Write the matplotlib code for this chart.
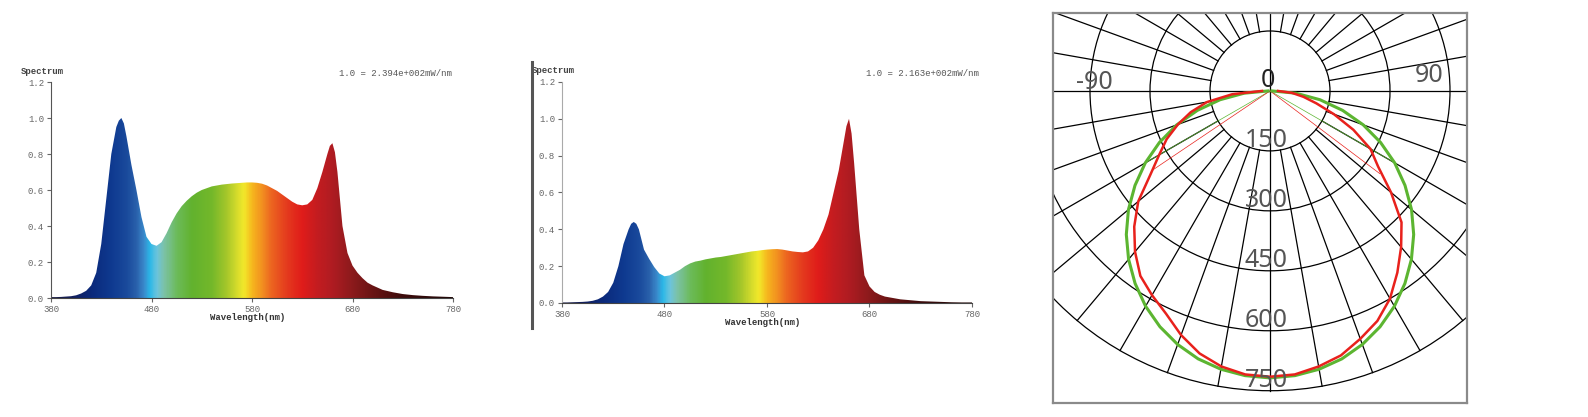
import numpy as np
import matplotlib
matplotlib.use('Agg')
import matplotlib.pyplot as plt
from matplotlib.colors import LinearSegmentedColormap
from matplotlib.patches import Circle
from matplotlib.lines import Line2D

# ---------------------------- data ----------------------------
wl = [380, 385, 390, 395, 400, 405, 410, 415, 420, 425, 430, 435, 440, 445, 447.5, 450, 452.5,
      455, 460, 465, 470, 475, 480, 485, 490, 495, 500, 505, 510, 515, 520, 525, 530, 535,
      540, 545, 550, 555, 560, 565, 570, 575, 580, 585, 590, 595, 600, 605, 610, 615,
      620, 625, 630, 635, 640, 645, 650, 655, 657.5, 660, 662.5, 665, 670, 675, 680, 685, 690,
      695, 700, 710, 720, 730, 740, 750, 760, 770, 780]

spec_a = [0.005, 0.005, 0.006, 0.008, 0.010, 0.015, 0.025, 0.040, 0.070, 0.140, 0.300, 0.550,
          0.800, 0.950, 0.985, 1.000, 0.970, 0.900, 0.740, 0.600, 0.450, 0.340, 0.300, 0.290,
          0.310, 0.360, 0.420, 0.470, 0.510, 0.540, 0.565, 0.585, 0.600, 0.610, 0.620, 0.625,
          0.630, 0.633, 0.636, 0.638, 0.640, 0.642, 0.642, 0.640, 0.635, 0.625, 0.610, 0.595,
          0.575, 0.555, 0.535, 0.520, 0.515, 0.520, 0.545, 0.610, 0.700, 0.800, 0.845, 0.860,
          0.810, 0.700, 0.400, 0.250, 0.180, 0.140, 0.110, 0.085, 0.070, 0.045, 0.032, 0.022,
          0.016, 0.012, 0.009, 0.007, 0.005]

spec_b = [0.003, 0.003, 0.004, 0.005, 0.006, 0.008, 0.012, 0.020, 0.035, 0.060, 0.110, 0.200,
          0.320, 0.400, 0.430, 0.440, 0.430, 0.400, 0.290, 0.240, 0.195, 0.160, 0.145, 0.150,
          0.165, 0.180, 0.200, 0.215, 0.225, 0.230, 0.237, 0.242, 0.247, 0.250, 0.255, 0.260,
          0.265, 0.270, 0.275, 0.280, 0.283, 0.287, 0.290, 0.292, 0.293, 0.290, 0.285, 0.280,
          0.277, 0.275, 0.280, 0.300, 0.340, 0.400, 0.480, 0.600, 0.720, 0.880, 0.960, 1.000,
          0.920, 0.760, 0.400, 0.150, 0.090, 0.060, 0.045, 0.035, 0.030, 0.020, 0.015, 0.010,
          0.008, 0.006, 0.004, 0.003, 0.003]

note_a = '1.0 = 2.394e+002mW/nm'
note_b = '1.0 = 2.163e+002mW/nm'

# spectral fill colours
col_wl = [380, 400, 420, 440, 455, 465, 472, 478, 485, 492, 505, 520, 540, 555, 565, 572,
          580, 590, 600, 615, 630, 645, 660, 680, 700, 730, 780]
col_hex = ['#1a1a40', '#131f5c', '#0b2a7c', '#0f3a90', '#1a4a9c', '#2a62ac', '#3a8acc',
           '#2ab8e8', '#6cc4dc', '#7cc2a8', '#6cbb5a', '#62b22e', '#74b82a', '#a6c72a',
           '#d6dc2c', '#f2e82a', '#f6b81e', '#f29020', '#ec6320', '#e43a1e', '#e01c1a',
           '#c41c20', '#b01c22', '#8c1a1c', '#6a1414', '#3e0c0c', '#200606']

# candela curves (C0-C180 red, C90-C270 green), angle from nadir
ang = [-90, -85, -80, -75, -70, -65, -60, -55, -50, -45, -40, -35, -30, -25, -20, -15, -10, -5,
       0, 5, 10, 15, 20, 25, 30, 35, 40, 45, 50, 55, 60, 65, 70, 75, 80, 85, 90]
cd_red = [20, 95, 160, 205, 245, 285, 320, 365, 430, 480, 525, 565, 590, 615, 650, 680, 700, 712,
          715, 712, 700, 685, 660, 635, 600, 555, 510, 465, 395, 330, 290, 230, 170, 120, 85, 55, 20]
cd_green = [5, 65, 127, 188, 248, 305, 360, 412, 462, 508, 550, 588, 622, 651, 675, 694, 707, 715,
            718, 715, 707, 694, 675, 651, 622, 588, 550, 508, 462, 412, 360, 305, 248, 188, 127, 65, 5]
beam_red = [(-56, 356), (53, 344)]
beam_green = [(-60, 360), (60, 360)]
rings = [150, 300, 450, 600, 750]

W, H = 1588, 417
fig = plt.figure(figsize=(W / 100, H / 100), dpi=100)

mono = 'Liberation Mono'
cmap = LinearSegmentedColormap.from_list(
    'spec', [((w - 380) / 400, c) for w, c in zip(col_wl, col_hex)])


def spectrum_panel(rect, values, note, spine_col, note_x):
    ax = fig.add_axes(rect)
    ax.set_xlim(380, 780)
    ax.set_ylim(0, 1.2)
    grad = np.linspace(0, 1, 800).reshape(1, -1)
    im = ax.imshow(grad, cmap=cmap, extent=[380, 780, 0, 1.2], aspect='auto', origin='lower')
    poly = ax.fill_between(wl, values, color='none', lw=0)
    im.set_clip_path(poly.get_paths()[0], transform=ax.transData)
    for s in ['top', 'right']:
        ax.spines[s].set_visible(False)
    ax.spines['left'].set_color(spine_col)
    ax.spines['bottom'].set_color('#444444')
    ax.set_xticks([380, 480, 580, 680, 780])
    ax.set_yticks([0.0, 0.2, 0.4, 0.6, 0.8, 1.0, 1.2])
    ax.set_yticklabels(['%.1f' % v for v in ax.get_yticks()])
    ax.tick_params(length=3, width=0.8, colors='#666666', labelsize=6.5, pad=2)
    for lab in ax.get_xticklabels() + ax.get_yticklabels():
        lab.set_family(mono)
    ax.text(-0.074, 1.05, 'Spectrum', transform=ax.transAxes, fontsize=6.5,
            family=mono, fontweight='bold', color='#444444', va='center')
    ax.text(note_x, 1.04, note, transform=ax.transAxes, fontsize=6.5,
            family=mono, color='#555555', va='center', ha='right')
    ax.text(0.49, -0.088, 'Wavelength(nm)', transform=ax.transAxes, fontsize=6.5,
            family=mono, fontweight='bold', color='#333333', va='center', ha='center')
    return ax


spectrum_panel([51 / W, (H - 298) / H, 402 / W, 216 / H], spec_a, note_a, '#555555', 0.997)
spectrum_panel([562 / W, (H - 303) / H, 410 / W, 221 / H], spec_b, note_b, '#aaaaaa', 1.017)

# separator line left of second spectrum
fig.add_artist(Line2D([532 / W, 532 / W], [(H - 328) / H, (H - 62) / H],
                      color='#555555', lw=2.2, transform=fig.transFigure))

# ---------------------------- polar candela diagram ----------------------------
ax3 = fig.add_axes([1053 / W, (H - 403) / H, 414 / W, 390 / H])
ax3.set_xlim(-542.5, 492.5)
ax3.set_ylim(-780.75, 195)
ax3.set_xticks([])
ax3.set_yticks([])
for s in ax3.spines.values():
    s.set_color('#8a8a8a')
    s.set_linewidth(1.6)

for r in rings:
    ax3.add_patch(Circle((0, 0), r, fill=False, lw=0.9, ec='black'))
for a in np.arange(0, 360, 10):
    t = np.radians(a)
    r0 = 0 if a % 90 == 0 else rings[0]
    ax3.plot([r0 * np.sin(t), rings[-1] * np.sin(t)],
             [-r0 * np.cos(t), -rings[-1] * np.cos(t)], color='black', lw=0.9)


def to_xy(angles, vals):
    t = np.radians(angles)
    v = np.asarray(vals, float)
    return v * np.sin(t), -v * np.cos(t)


gx, gy = to_xy(ang, cd_green)
rx, ry = to_xy(ang, cd_red)
ax3.plot(gx, gy, color='#5cb531', lw=2.2, zorder=5)
ax3.plot(rx, ry, color='#e8211c', lw=1.8, zorder=6)
for (a, v) in beam_green:
    x, y = to_xy([a], [v])
    ax3.plot([0, x[0]], [0, y[0]], color='#5cb531', lw=0.5, zorder=4)
for (a, v) in beam_red:
    x, y = to_xy([a], [v])
    ax3.plot([0, x[0]], [0, y[0]], color='#e8211c', lw=0.5, zorder=4)

narrow = ['Liberation Sans Narrow', 'Noto Sans', 'DejaVu Sans']
for r in rings:
    ax3.text(-10, -r + 26, str(r), fontsize=18, color='#555555', family=narrow,
             ha='center', va='center', zorder=7)
ax3.text(-5, 27, '0', fontsize=18, color='#222222', family=narrow, ha='center', va='center', zorder=7)
ax3.text(-440, 22, '-90', fontsize=18, color='#555555', family=narrow, ha='center', va='center', zorder=7)
ax3.text(397, 39, '90', fontsize=18, color='#555555', family=narrow, ha='center', va='center', zorder=7)

fig.savefig('out.png', dpi=100)
